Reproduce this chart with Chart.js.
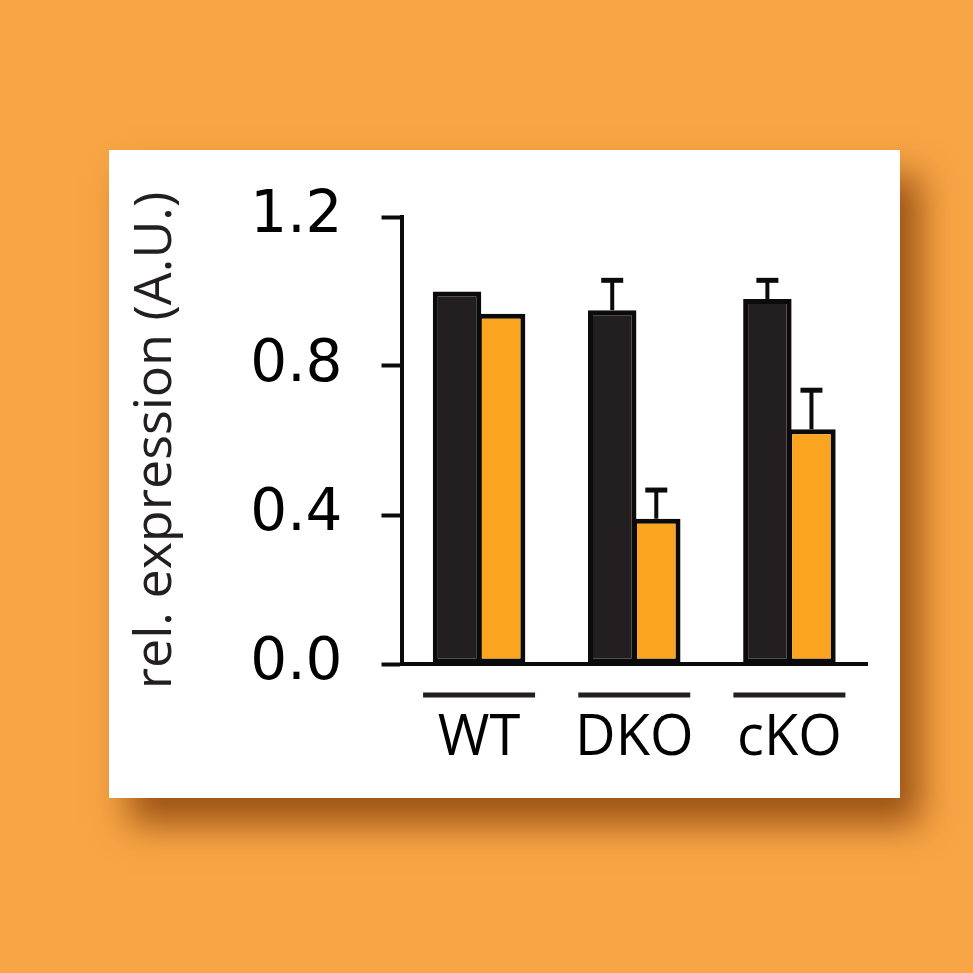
<!DOCTYPE html>
<html>
<head>
<meta charset="utf-8">
<script src="https://cdn.jsdelivr.net/npm/chart.js@4/dist/chart.umd.min.js"></script>
<style>
  html, body { margin: 0; padding: 0; }
  body { width: 973px; height: 973px; background: #f8a545; position: relative; overflow: hidden; font-family: 'Open Sans'; }
  #card {
    position: absolute; left: 109px; top: 150px; width: 791px; height: 648px;
    background: #fff;
    box-shadow: 20px 26px 34px rgba(115, 48, 0, 0.7);
  }
  #card canvas { position: absolute; left: 0; top: 0; }
</style>
</head>
<body>
<div id="card"><canvas id="chart" width="791" height="648"></canvas></div>
<script>
// data
const groups = ['WT', 'DKO', 'cKO'];
const controlValues = [1.0, 0.95, 0.98];
const controlErrors = [0, 0.08, 0.05];
const mutantValues = [0.94, 0.39, 0.63];
const mutantErrors = [0, 0.077, 0.105];
const yTicks = [0, 0.4, 0.8, 1.2];

const INK = '#0b0b0c';

// upper error bars only, like the original
const errorBars = {
  id: 'errorBars',
  afterDatasetsDraw(chart) {
    const ctx = chart.ctx;
    const y = chart.scales.y;
    ctx.save();
    ctx.strokeStyle = INK;
    ctx.lineCap = 'butt';
    chart.data.datasets.forEach((ds, di) => {
      if (!ds.errors) return;
      const meta = chart.getDatasetMeta(di);
      meta.data.forEach((bar, i) => {
        const err = ds.errors[i];
        if (!err) return;
        const top = y.getPixelForValue(ds.data[i] + err);
        ctx.lineWidth = 4;
        ctx.beginPath();
        ctx.moveTo(bar.x, bar.y);
        ctx.lineTo(bar.x, top);
        ctx.stroke();
        ctx.lineWidth = 5;
        ctx.beginPath();
        ctx.moveTo(bar.x - 11, top);
        ctx.lineTo(bar.x + 11, top);
        ctx.stroke();
      });
    });
    ctx.restore();
  }
};

// short rule above each group name
const groupRules = {
  id: 'groupRules',
  afterDraw(chart) {
    const ctx = chart.ctx;
    const x = chart.scales.x;
    const yPos = chart.chartArea.bottom + 31;
    ctx.save();
    ctx.strokeStyle = '#231f20';
    ctx.lineWidth = 5;
    groups.forEach((g, i) => {
      const cx = x.getPixelForValue(i);
      ctx.beginPath();
      ctx.moveTo(cx - 56, yPos);
      ctx.lineTo(cx + 56, yPos);
      ctx.stroke();
    });
    ctx.restore();
  }
};

function draw() {
  new Chart(document.getElementById('chart'), {
    type: 'bar',
    data: {
      labels: groups,
      datasets: [
        {
          data: controlValues,
          errors: controlErrors,
          backgroundColor: '#231f20',
          borderColor: INK,
          borderWidth: 5,
          borderSkipped: false
        },
        {
          data: mutantValues,
          errors: mutantErrors,
          backgroundColor: '#faa41f',
          borderColor: INK,
          borderWidth: 5,
          borderSkipped: false
        }
      ]
    },
    options: {
      responsive: false,
      animation: false,
      devicePixelRatio: 1,
      categoryPercentage: 0.568,
      barPercentage: 1.1,
      layout: { padding: { left: 0, right: 33, top: 67, bottom: 0 } },
      plugins: { legend: { display: false }, tooltip: { enabled: false } },
      scales: {
        x: {
          grid: { display: false, drawTicks: false },
          border: { display: true, color: INK, width: 4 },
          ticks: {
            color: '#000',
            padding: 41,
            font: { family: 'Open Sans', size: 56 }
          },
          afterFit(scale) { scale.height = 134; }
        },
        y: {
          min: 0,
          max: 1.2,
          afterBuildTicks(scale) { scale.ticks = yTicks.map(v => ({ value: v })); },
          grid: {
            drawOnChartArea: false,
            drawTicks: true,
            tickLength: 20,
            tickWidth: 4,
            tickColor: INK
          },
          border: { display: true, color: INK, width: 4 },
          ticks: {
            color: '#000',
            padding: 39,
            font: { family: 'DejaVu Sans', size: 58 },
            callback: v => Number(v).toFixed(1)
          },
          title: {
            display: true,
            text: 'rel. expression (A.U.)',
            color: '#231f20',
            font: { family: 'Open Sans', size: 52 },
            padding: { top: 16, bottom: 0 }
          },
          afterFit(scale) {
            scale.width = 292.5;
            // the wide label padding shouldn't push the plot area down
            scale.paddingTop = 30;
            scale.paddingBottom = 30;
          }
        }
      }
    },
    plugins: [errorBars, groupRules]
  });
}

Promise.all([
  document.fonts.load('52px "Open Sans"'),
  document.fonts.load('58px "DejaVu Sans"')
]).then(draw, draw);
</script>
</body>
</html>
